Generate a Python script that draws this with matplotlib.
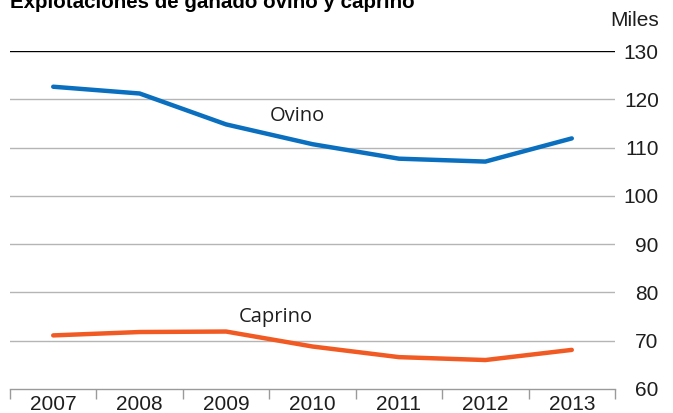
import numpy as np
import matplotlib
matplotlib.use("Agg")
import matplotlib.pyplot as plt
from matplotlib import font_manager

# Explotaciones de ganado (miles)
years = ["2007", "2008", "2009", "2010", "2011", "2012", "2013"]
ovino = [122.6, 121.2, 114.8, 110.7, 107.7, 107.1, 111.9]
caprino = [71.1, 71.8, 71.9, 68.8, 66.6, 66.0, 68.1]
y_ticks = [60, 70, 80, 90, 100, 110, 120, 130]

BLUE = "#0a6fbf"
ORANGE = "#f15a22"
GRID = "#b5b5b5"
TEXT = "#1e1e1e"

plt.rcParams["font.family"] = ["Liberation Sans", "DejaVu Sans"]

W, H = 673, 413
fig = plt.figure(figsize=(W / 100, H / 100), dpi=100)
ax = fig.add_axes([10 / W, 1 - 389 / H, 605 / W, (389 - 51) / H])

x = np.arange(len(years))
ax.set_xlim(-0.5, len(years) - 0.5)
ax.set_ylim(60, 130)

# horizontal rules: black on top, grey for the rest
for v in y_ticks[1:-1]:
    ax.axhline(v, color=GRID, lw=1, zorder=1)
ax.axhline(130, color="black", lw=1, zorder=1)

ax.plot(x, ovino, color=BLUE, lw=3.2, solid_capstyle="round", zorder=3)
ax.plot(x, caprino, color=ORANGE, lw=3.2, solid_capstyle="round", zorder=3)

ax.text(2.82, 116.6, "Ovino", family="Open Sans", fontsize=14.5,
        color=TEXT, ha="center", va="center")
ax.text(2.57, 75.0, "Caprino", family="Open Sans", fontsize=14.5,
        color=TEXT, ha="center", va="center")

for s in ["top", "left", "right"]:
    ax.spines[s].set_visible(False)
ax.spines["bottom"].set_color("#9a9a9a")
ax.spines["bottom"].set_linewidth(1)

# years sit between the little divider ticks
ax.set_xticks(x)
ax.set_xticklabels(years, fontsize=15, color=TEXT)
ax.set_xticks(np.arange(-0.5, len(years)), minor=True)
ax.tick_params(axis="x", which="major", length=0, pad=4.3)
ax.tick_params(axis="x", which="minor", length=7.5, width=1, color="#9a9a9a")

ax.yaxis.tick_right()
ax.set_yticks(y_ticks)
ax.tick_params(axis="y", length=0, pad=31.5, labelsize=15, labelcolor=TEXT)
for lbl in ax.get_yticklabels():
    lbl.set_horizontalalignment("right")

fig.text(659 / W, 1 - 20 / H, "Miles", fontsize=15, color=TEXT,
         ha="right", va="center")

# condensed bold title if the narrow face is around
title_family = ["Liberation Sans"]
names = {f.name for f in font_manager.fontManager.ttflist}
if "Liberation Sans Narrow" in names:
    title_family = ["Liberation Sans Narrow", "Liberation Sans"]
title = fig.text(10 / W, 1 - 8 / H, "Explotaciones de ganado ovino y caprino",
                 family=title_family, fontsize=16, fontweight="bold",
                 color="black", ha="left", va="baseline")
# size it to span up to x = 415 px
renderer = fig.canvas.get_renderer()
tw = title.get_window_extent(renderer).width
title.set_fontsize(16 * 405 / tw)

fig.savefig("out.png", dpi=100)
